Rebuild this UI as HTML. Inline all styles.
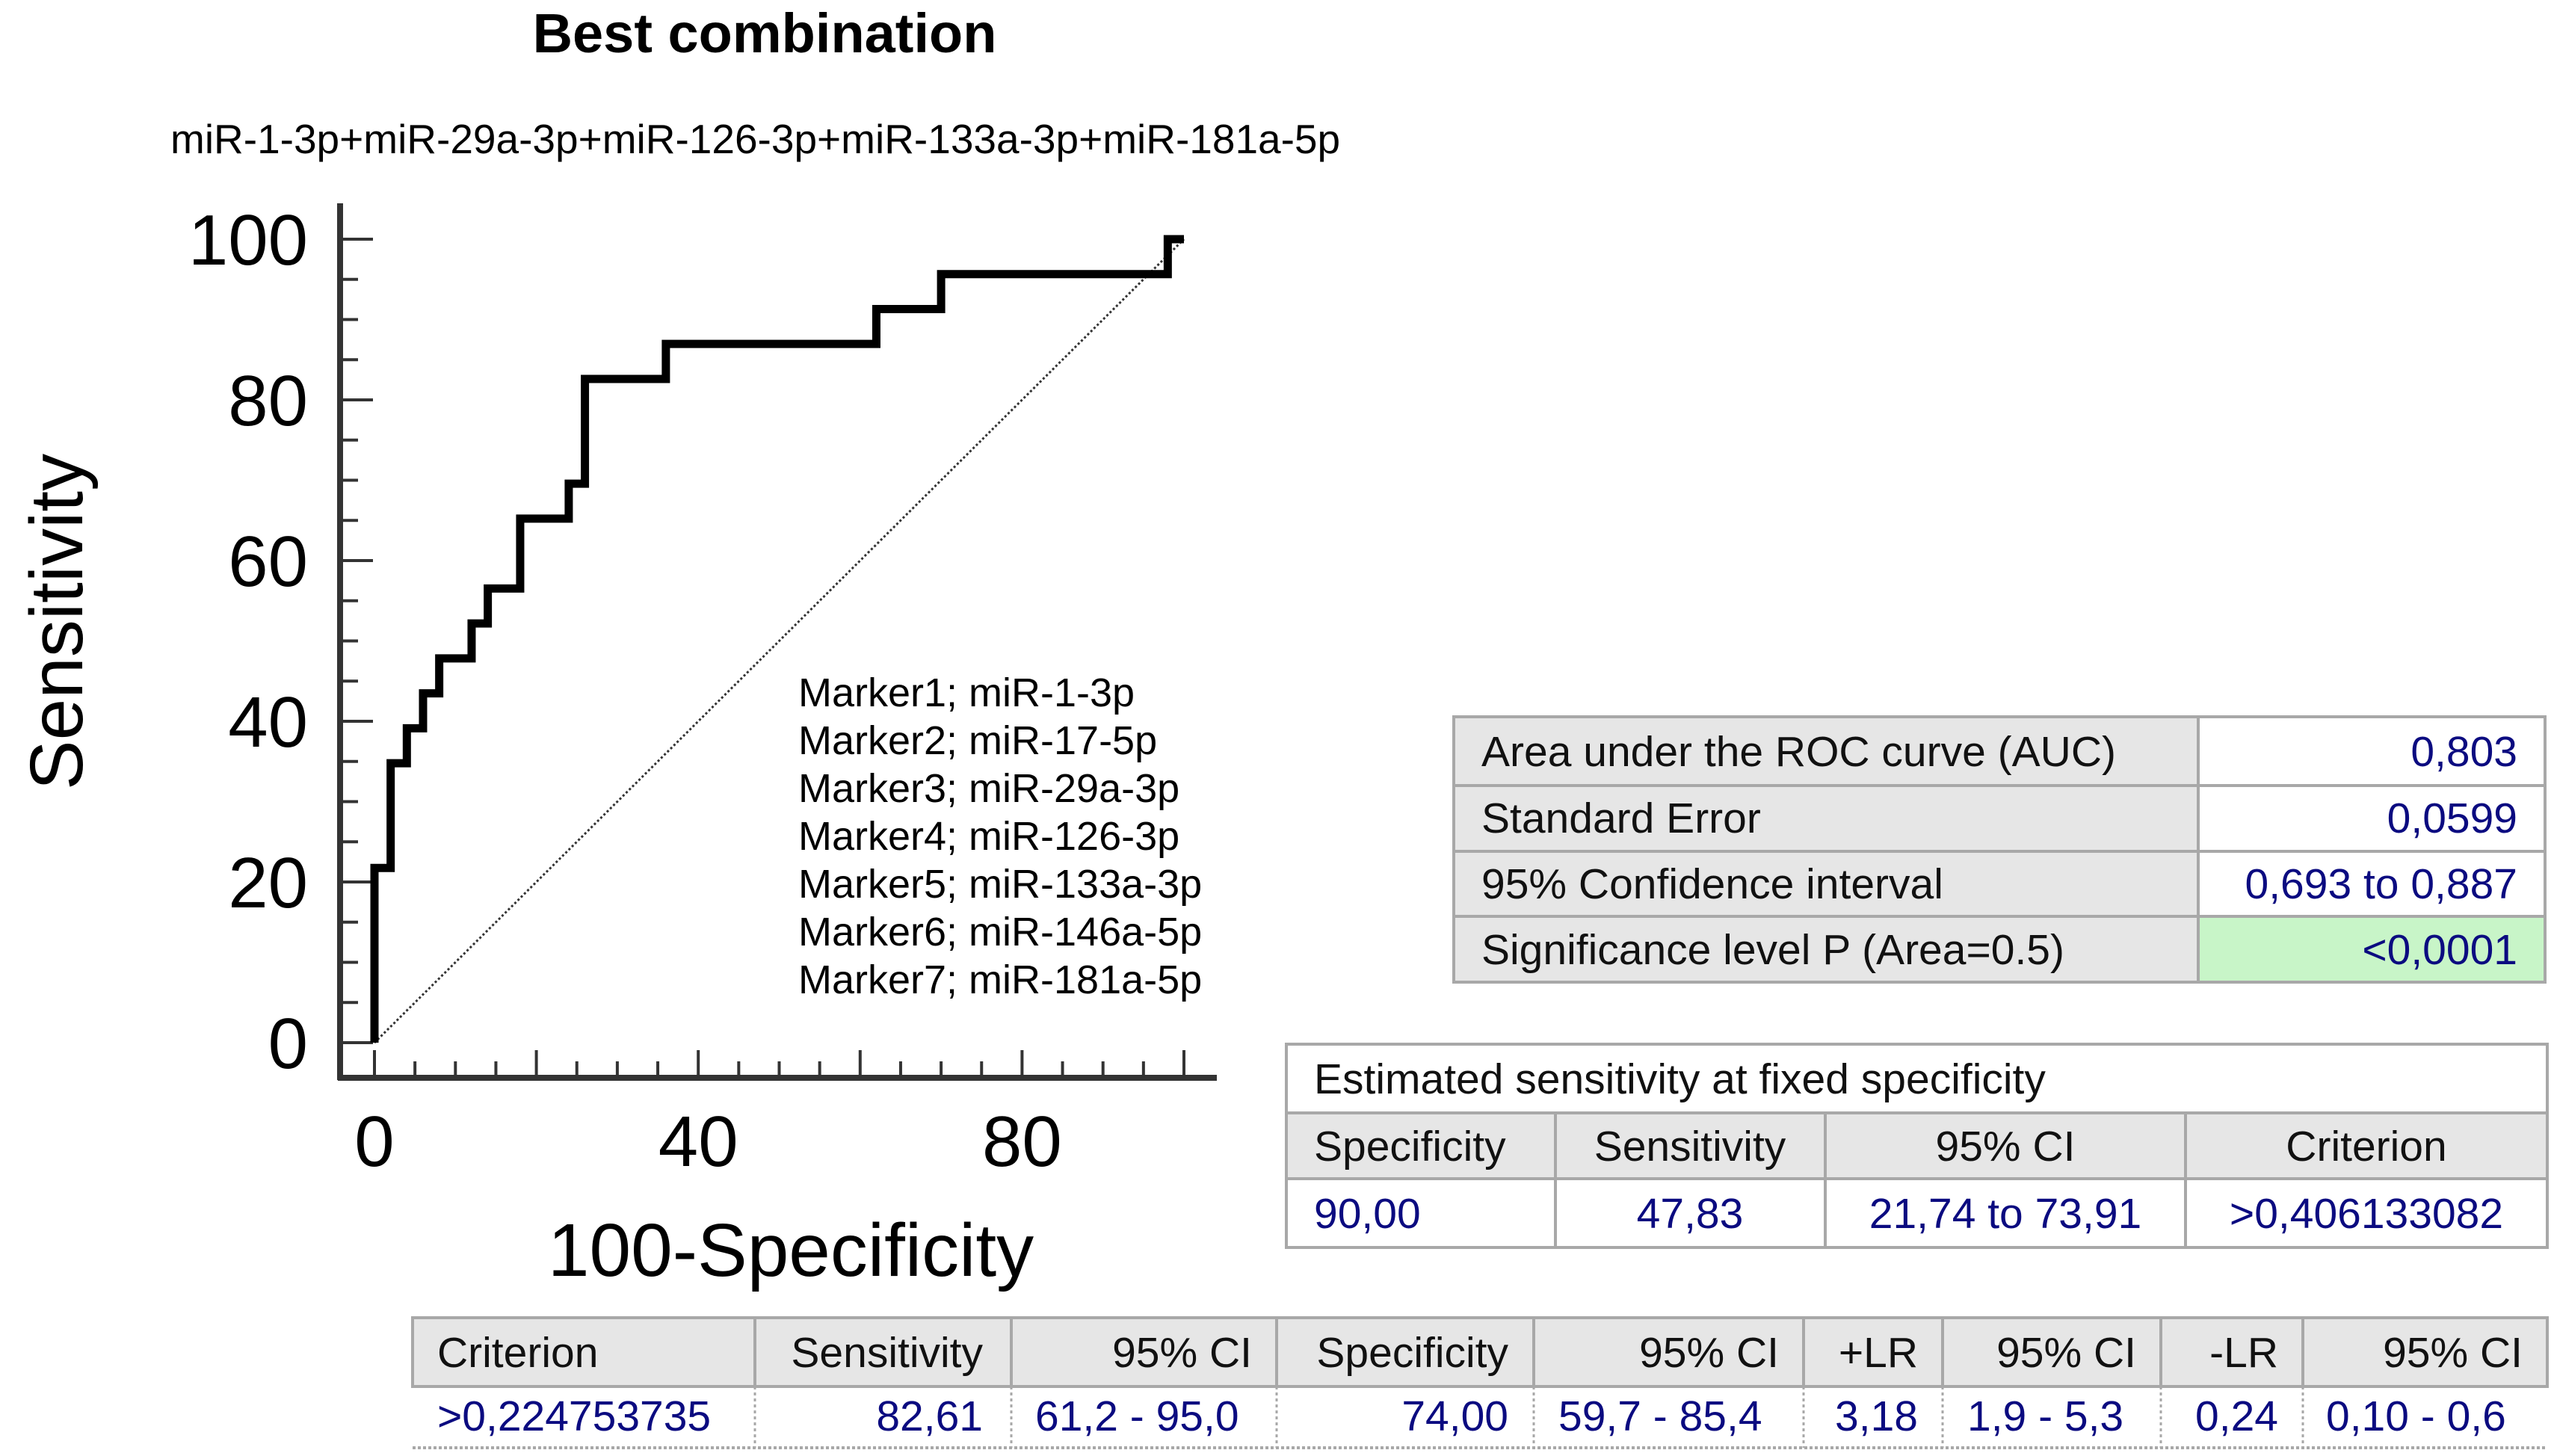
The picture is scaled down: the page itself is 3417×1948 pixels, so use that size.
<!DOCTYPE html>
<html><head><meta charset="utf-8"><style>
html,body{margin:0;padding:0;background:#fff;}
svg{display:block;font-family:"Liberation Sans",sans-serif;}
.tl{font-size:57px;fill:#111;}
.tv{font-size:57px;fill:#0b0b80;}
</style></head><body>
<svg id="c" width="3417" height="1948" viewBox="0 0 3417 1948" xmlns="http://www.w3.org/2000/svg">
<text x="1023" y="70" text-anchor="middle" font-size="74" font-weight="bold">Best combination</text>
<text x="228" y="205" font-size="55">miR-1-3p+miR-29a-3p+miR-126-3p+miR-133a-3p+miR-181a-5p</text>
<text transform="translate(110,832) rotate(-90)" text-anchor="middle" font-size="100">Sensitivity</text>
<text x="1058" y="1707" text-anchor="middle" font-size="100">100-Specificity</text>
<g id="axes"></g>
<g id="marks"></g>
<g font-size="54">
<text x="1068" y="945">Marker1; miR-1-3p</text>
<text x="1068" y="1009">Marker2; miR-17-5p</text>
<text x="1068" y="1073">Marker3; miR-29a-3p</text>
<text x="1068" y="1137">Marker4; miR-126-3p</text>
<text x="1068" y="1201">Marker5; miR-133a-3p</text>
<text x="1068" y="1265">Marker6; miR-146a-5p</text>
<text x="1068" y="1329">Marker7; miR-181a-5p</text>
</g>

<g stroke="#a8a8a8" stroke-width="4">
<rect x="1945" y="959" width="996" height="355" fill="#e6e6e6"/>
<rect x="2941" y="959" width="464" height="267" fill="#fff"/>
<rect x="2941" y="1226" width="464" height="88" fill="#c8f5c8"/>
<line x1="1945" y1="1051" x2="3405" y2="1051"/>
<line x1="1945" y1="1139" x2="3405" y2="1139"/>
<line x1="1945" y1="1226" x2="3405" y2="1226"/>
<line x1="2941" y1="959" x2="2941" y2="1314"/>
</g>
<g>
<text class="tl" x="1982" y="1025">Area under the ROC curve (AUC)</text>
<text class="tv" x="3368" y="1025" text-anchor="end">0,803</text>
<text class="tl" x="1982" y="1114">Standard Error</text>
<text class="tv" x="3368" y="1114" text-anchor="end">0,0599</text>
<text class="tl" x="1982" y="1202">95% Confidence interval</text>
<text class="tv" x="3368" y="1202" text-anchor="end">0,693 to 0,887</text>
<text class="tl" x="1982" y="1290">Significance level P (Area=0.5)</text>
<text class="tv" x="3368" y="1290" text-anchor="end">&lt;0,0001</text>
</g>

<g stroke="#a8a8a8" stroke-width="4">
<rect x="1721" y="1397" width="1687" height="272" fill="#fff"/>
<rect x="1721" y="1489" width="1687" height="88" fill="#e6e6e6"/>
<line x1="2081" y1="1489" x2="2081" y2="1669"/>
<line x1="2442" y1="1489" x2="2442" y2="1669"/>
<line x1="2924" y1="1489" x2="2924" y2="1669"/>
</g>
<g>
<text class="tl" x="1758" y="1463">Estimated sensitivity at fixed specificity</text>
<text class="tl" x="1758" y="1553">Specificity</text>
<text class="tl" x="2261" y="1553" text-anchor="middle">Sensitivity</text>
<text class="tl" x="2683" y="1553" text-anchor="middle">95% CI</text>
<text class="tl" x="3166" y="1553" text-anchor="middle">Criterion</text>
<text class="tv" x="1758" y="1643">90,00</text>
<text class="tv" x="2261" y="1643" text-anchor="middle">47,83</text>
<text class="tv" x="2683" y="1643" text-anchor="middle">21,74 to 73,91</text>
<text class="tv" x="3166" y="1643" text-anchor="middle">&gt;0,406133082</text>
</g>

<g stroke="#a8a8a8" stroke-width="4">
<rect x="552" y="1763" width="2856" height="92" fill="#e6e6e6"/>
<line x1="552" y1="1937" x2="3408" y2="1937" stroke-dasharray="4 3"/>
<line x1="1010" y1="1763" x2="1010" y2="1855"/><line x1="1353" y1="1763" x2="1353" y2="1855"/>
<line x1="1708" y1="1763" x2="1708" y2="1855"/><line x1="2052" y1="1763" x2="2052" y2="1855"/>
<line x1="2413" y1="1763" x2="2413" y2="1855"/><line x1="2599" y1="1763" x2="2599" y2="1855"/>
<line x1="2891" y1="1763" x2="2891" y2="1855"/><line x1="3081" y1="1763" x2="3081" y2="1855"/>
<g stroke-dasharray="4 4" stroke-width="3">
<line x1="1010" y1="1855" x2="1010" y2="1937"/><line x1="1353" y1="1855" x2="1353" y2="1937"/>
<line x1="1708" y1="1855" x2="1708" y2="1937"/><line x1="2052" y1="1855" x2="2052" y2="1937"/>
<line x1="2413" y1="1855" x2="2413" y2="1937"/><line x1="2599" y1="1855" x2="2599" y2="1937"/>
<line x1="2891" y1="1855" x2="2891" y2="1937"/><line x1="3081" y1="1855" x2="3081" y2="1937"/>
</g>
</g>
<g>
<text class="tl" x="585" y="1829">Criterion</text>
<text class="tl" x="1315" y="1829" text-anchor="end">Sensitivity</text>
<text class="tl" x="1675" y="1829" text-anchor="end">95% CI</text>
<text class="tl" x="2018" y="1829" text-anchor="end">Specificity</text>
<text class="tl" x="2380" y="1829" text-anchor="end">95% CI</text>
<text class="tl" x="2566" y="1829" text-anchor="end">+LR</text>
<text class="tl" x="2858" y="1829" text-anchor="end">95% CI</text>
<text class="tl" x="3048" y="1829" text-anchor="end">-LR</text>
<text class="tl" x="3375" y="1829" text-anchor="end">95% CI</text>
<text class="tv" x="585" y="1914">&gt;0,224753735</text>
<text class="tv" x="1315" y="1914" text-anchor="end">82,61</text>
<text class="tv" x="1385" y="1914">61,2 - 95,0</text>
<text class="tv" x="2018" y="1914" text-anchor="end">74,00</text>
<text class="tv" x="2085" y="1914">59,7 - 85,4</text>
<text class="tv" x="2566" y="1914" text-anchor="end">3,18</text>
<text class="tv" x="2632" y="1914">1,9 - 5,3</text>
<text class="tv" x="3048" y="1914" text-anchor="end">0,24</text>
<text class="tv" x="3112" y="1914">0,10 - 0,6</text>
</g>
</svg>
<script>
const fpr = [0,0,2,2,4,4,6,6,8,8,12,12,14,14,18,18,24,24,26,26,36,36,62,62,70,70,98,98,100];
const tpr = [0,21.74,21.74,34.78,34.78,39.13,39.13,43.48,43.48,47.83,47.83,52.17,52.17,56.52,56.52,65.22,65.22,69.57,69.57,82.61,82.61,86.96,86.96,91.3,91.3,95.65,95.65,100,100];
const yTicks = [0,20,40,60,80,100];
const xTicks = [0,40,80];
const NS='http://www.w3.org/2000/svg';
const X = v => 501 + v*10.83;
const Y = v => 1395 - v*10.75;
function mk(tag, attrs, parent){const e=document.createElementNS(NS,tag);for(const k in attrs)e.setAttribute(k,attrs[k]);parent.appendChild(e);return e;}
const ax=document.getElementById('axes'), mg=document.getElementById('marks');
let e;
e=mk('line',{x1:455,y1:272,x2:455,y2:1445,stroke:'#333','stroke-width':8},ax);


e=mk('line',{x1:452,y1:1442,x2:1628,y2:1442,stroke:'#333','stroke-width':8},ax);


for(let v=0;v<=100;v+=5){
  const maj=v%20===0;
  e=mk('line',{x1:455,y1:Y(v),x2:455+(maj?44:24),y2:Y(v),stroke:'#333','stroke-width':4},ax);
  
  
  e=mk('line',{x1:X(v),y1:1442,x2:X(v),y2:1442-(maj?37:22),stroke:'#333','stroke-width':4},ax);
  
  
}
yTicks.forEach(v=>{
  e=mk('text',{x:412,y:Y(v)+34,'text-anchor':'end','font-size':96},ax);
  e.textContent=v;
  
  
});
xTicks.forEach(v=>{
  e=mk('text',{x:X(v),y:1560,'text-anchor':'middle','font-size':96},ax);
  e.textContent=v;
  
  
});
e=mk('line',{x1:X(0),y1:Y(0),x2:X(100),y2:Y(100),stroke:'#333','stroke-width':3,'stroke-dasharray':'3 3'},mg);


e=mk('polyline',{points:fpr.map((f,i)=>X(f)+','+Y(tpr[i])).join(' '),fill:'none',stroke:'#000','stroke-width':11,'stroke-linejoin':'miter'},mg);


</script>
</body></html>
